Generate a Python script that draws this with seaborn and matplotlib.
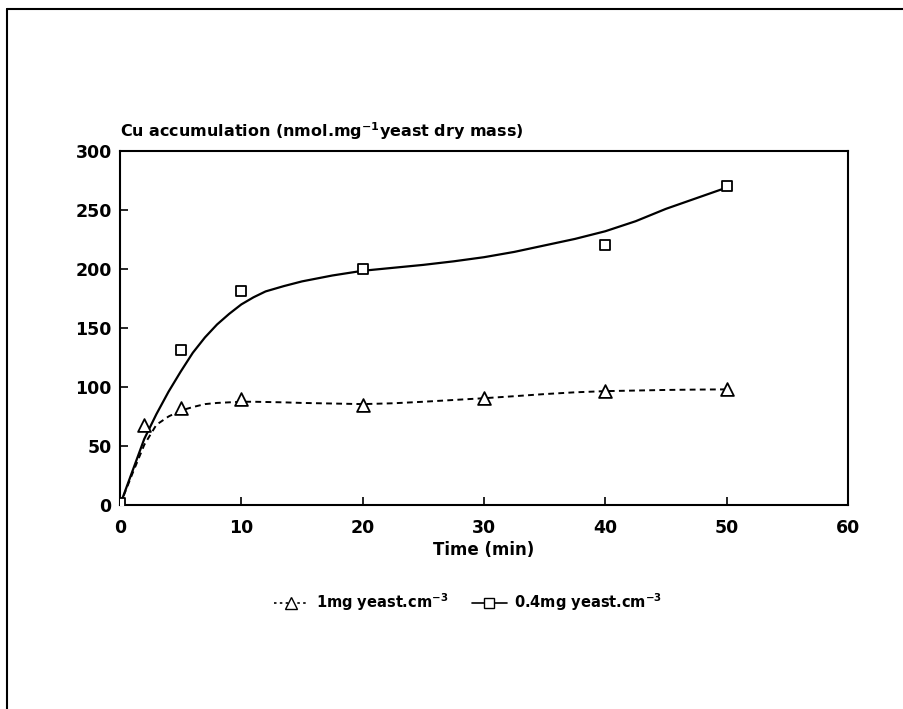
import matplotlib
matplotlib.use("Agg")
import matplotlib.pyplot as plt
from matplotlib.lines import Line2D
import pandas as pd
import seaborn as sns

# measured points
time_tri = [0, 2, 5, 10, 20, 30, 40, 50]
cu_tri = [1, 68, 82, 90, 85, 91, 97, 98]
time_sq = [0, 5, 10, 20, 40, 50]
cu_sq = [2, 131, 181, 200, 220, 270]

# fitted curves
curve_t = [0, 1, 2, 3, 4, 5, 6, 7, 8, 9, 10, 11, 12, 13.5, 15, 17.5, 20, 22.5, 25,
           27.5, 30, 32.5, 35, 37.5, 40, 42.5, 45, 47.5, 50]
curve_tri = [0, 26, 51, 68, 75, 80, 83, 85.5, 86.5, 87, 87.5, 87.5, 87.3, 87, 86.5, 86,
             85.5, 86.2, 87.5, 89, 90.5, 92.2, 94, 95.5, 96.5, 97, 97.5, 97.8, 98]
curve_sq = [0, 28, 56, 77, 96, 113, 129, 142, 153, 162, 170, 176, 181, 185.5, 189.5, 194.5,
            198.5, 201, 203.5, 206.5, 210, 214.5, 220, 225.5, 232, 240.5, 251, 260, 269]

legend_labels = [r"1mg yeast.cm$^{-3}$", r"0.4mg yeast.cm$^{-3}$"]

sns.set_style("ticks")
plt.rcParams["font.family"] = ["DejaVu Sans"]
plt.rcParams["font.weight"] = "bold"
plt.rcParams["text.color"] = "black"
plt.rcParams["axes.labelcolor"] = "black"
plt.rcParams["mathtext.fontset"] = "dejavusans"
plt.rcParams["mathtext.default"] = "bf"

fig = plt.figure(figsize=(9.04, 7.09), dpi=100)
ax = fig.add_axes([120 / 904, 1 - 505 / 709, 728 / 904, 354 / 709])

curves = pd.DataFrame({"t": curve_t, "tri": curve_tri, "sq": curve_sq})
sns.lineplot(data=curves, x="t", y="sq", ax=ax, color="black", lw=1.6)
sns.lineplot(data=curves, x="t", y="tri", ax=ax, color="black", lw=1.4)
ax.lines[-1].set_dashes((3, 2.2))

pts_tri = pd.DataFrame({"t": time_tri, "cu": cu_tri})
pts_sq = pd.DataFrame({"t": time_sq, "cu": cu_sq})
sns.scatterplot(data=pts_tri, x="t", y="cu", ax=ax, marker="^", s=85,
                facecolor="white", edgecolor="black", linewidth=1.3, zorder=4)
sns.scatterplot(data=pts_sq, x="t", y="cu", ax=ax, marker="s", s=55,
                facecolor="white", edgecolor="black", linewidth=1.3, zorder=4)

ax.set_xlim(0, 60)
ax.set_ylim(0, 300)
ax.set_xticks(range(0, 61, 10))
ax.set_yticks(range(0, 301, 50))
ax.tick_params(direction="in", length=6, width=1.2, labelsize=12.5, colors="black")
ax.tick_params(axis="x", pad=10)
ax.tick_params(axis="y", pad=6)
for sp in ax.spines.values():
    sp.set_visible(True)
    sp.set_linewidth(1.5)
    sp.set_color("black")
ax.set_xlabel("Time (min)", fontsize=12, fontweight="bold", labelpad=3)
ax.set_ylabel("")
ax.text(0, 1.025, r"Cu accumulation (nmol.mg$^{-1}$yeast dry mass)", transform=ax.transAxes,
        ha="left", va="bottom", fontsize=11.5, fontweight="bold")

handles = [
    Line2D([], [], color="black", lw=1.2, dashes=(1.5, 2), marker="^", markersize=8,
           markerfacecolor="white", markeredgecolor="black"),
    Line2D([], [], color="black", lw=1.2, marker="s", markersize=6.5,
           markerfacecolor="white", markeredgecolor="black"),
]
fig.legend(handles, legend_labels, loc="center", bbox_to_anchor=(468 / 904, 1 - 602 / 709),
           ncol=2, frameon=False, fontsize=10.5, handlelength=2.4, columnspacing=1.6,
           handletextpad=0.5)

# page frame (left and top edge only)
fig.add_artist(Line2D([7 / 904, 7 / 904], [0, 1 - 9 / 709], transform=fig.transFigure,
                      color="black", lw=1.5))
fig.add_artist(Line2D([7 / 904, 1], [1 - 9 / 709, 1 - 9 / 709], transform=fig.transFigure,
                      color="black", lw=1.5))

fig.savefig("out.png", dpi=100, facecolor="white")
